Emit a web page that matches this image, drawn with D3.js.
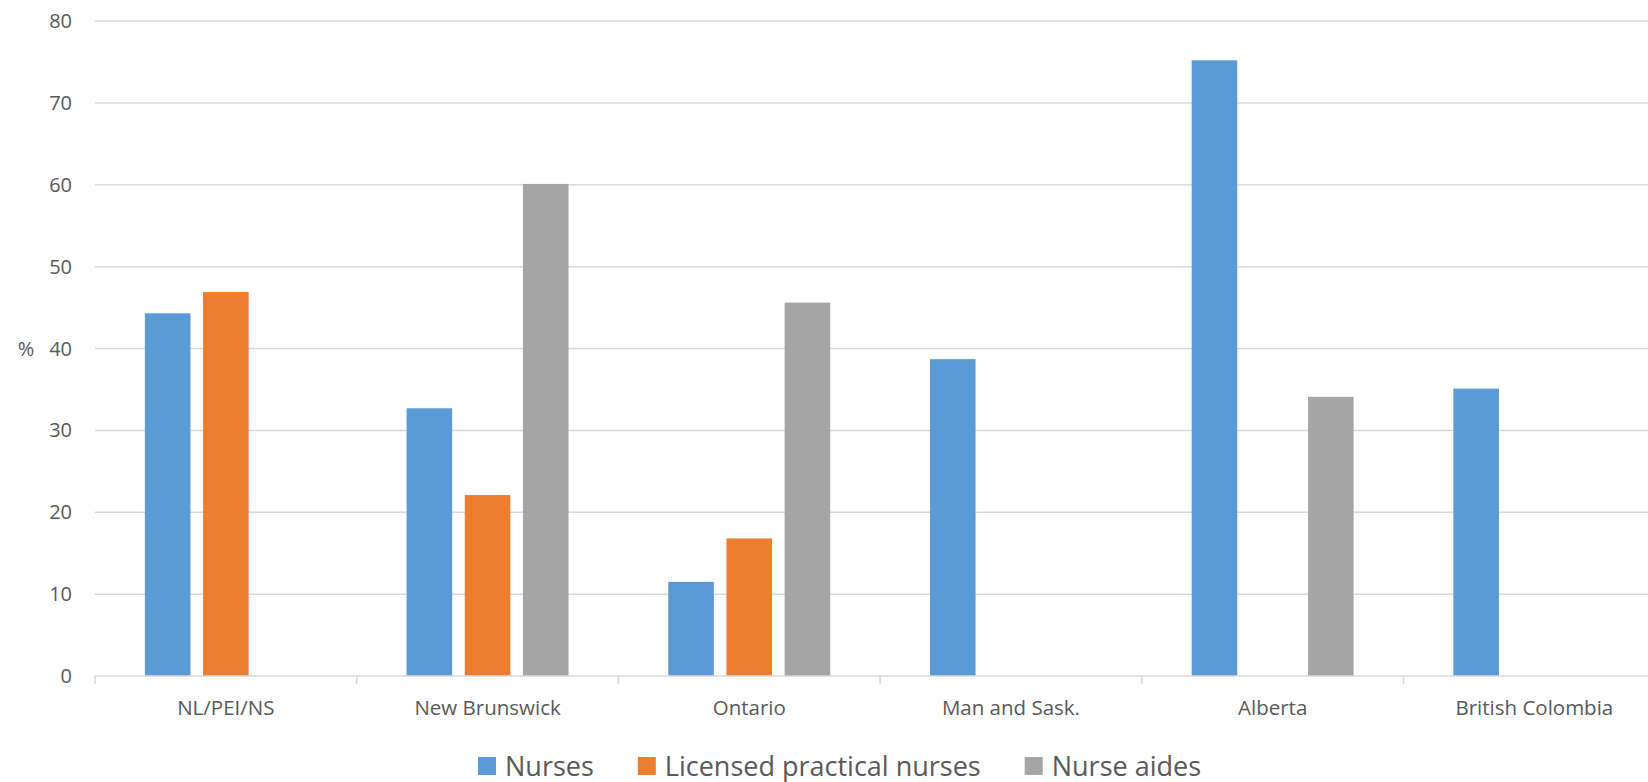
<!DOCTYPE html>
<html>
<head>
<meta charset="utf-8">
<script src="https://cdn.jsdelivr.net/npm/d3@7"></script>
<style>
  body { margin: 0; background: #fff; }
  svg text { font-family: "Open Sans", sans-serif; fill: #595959; }
</style>
</head>
<body>
<div id="chart"></div>
<script>
const width = 1648, height = 782;

// data
const categories = ["NL/PEI/NS", "New Brunswick", "Ontario", "Man and Sask.", "Alberta", "British Colombia"];
const seriesNames = ["Nurses", "Licensed practical nurses", "Nurse aides"];
const nurses = [44.3, 32.7, 11.5, 38.7, 75.2, 35.1];
const lpn = [46.9, 22.1, 16.8, null, null, null];
const aides = [null, 60.1, 45.6, null, 34.1, null];
const yTicks = [0, 10, 20, 30, 40, 50, 60, 70, 80];
const colors = ["#5B9BD5", "#ED7D31", "#A5A5A5"];

const seriesValues = [nurses, lpn, aides];

const margin = { left: 95, top: 21, bottom: 106 };
const plotRight = 95 + 6 * 261.7; // plot runs past the right edge of the picture

const svg = d3.select("#chart")
    .append("svg")
    .attr("width", width)
    .attr("height", height);

const x = d3.scaleBand()
    .domain(categories)
    .range([margin.left, plotRight]);

const xSub = d3.scaleBand()
    .domain(seriesNames)
    .range([0, x.bandwidth()])
    .paddingInner(0.2165)
    .paddingOuter(0.857);

const y = d3.scaleLinear()
    .domain([0, 80])
    .range([height - margin.bottom, margin.top]);

// gridlines
svg.append("g")
    .selectAll("line")
    .data(yTicks.filter(d => d > 0))
    .join("line")
    .attr("x1", margin.left)
    .attr("x2", width)
    .attr("y1", d => y(d))
    .attr("y2", d => y(d))
    .attr("stroke", "#D9D9D9")
    .attr("stroke-width", 1.5);

// y tick labels
svg.append("g")
    .selectAll("text")
    .data(yTicks)
    .join("text")
    .attr("x", 72)
    .attr("y", d => y(d))
    .attr("dy", "0.35em")
    .attr("text-anchor", "end")
    .style("font-size", "20px")
    .text(d => d);

svg.append("text")
    .attr("x", 26)
    .attr("y", y(40))
    .attr("dy", "0.35em")
    .attr("text-anchor", "middle")
    .style("font-size", "20px")
    .text("%");

// bars
const rows = categories.map((c, i) => ({ cat: c, vals: seriesNames.map((s, j) => ({ s, j, v: seriesValues[j][i] })) }));

svg.append("g")
    .selectAll("g")
    .data(rows)
    .join("g")
    .attr("transform", d => `translate(${x(d.cat)},0)`)
    .selectAll("rect")
    .data(d => d.vals.filter(v => v.v != null))
    .join("rect")
    .attr("x", d => xSub(d.s))
    .attr("width", xSub.bandwidth())
    .attr("y", d => y(d.v))
    .attr("height", d => y(0) - y(d.v))
    .attr("fill", d => colors[d.j]);

// x axis
const xAxis = d3.axisBottom(x)
    .tickSize(0)
    .tickPadding(0);

const gx = svg.append("g")
    .attr("transform", `translate(0,${y(0)})`);

gx.append("line")
    .attr("x1", margin.left)
    .attr("x2", width)
    .attr("stroke", "#D9D9D9")
    .attr("stroke-width", 1.5);

gx.selectAll(".sep")
    .data(d3.range(categories.length + 1))
    .join("line")
    .attr("class", "sep")
    .attr("x1", i => margin.left + i * x.step())
    .attr("x2", i => margin.left + i * x.step())
    .attr("y1", 0)
    .attr("y2", 8)
    .attr("stroke", "#D9D9D9")
    .attr("stroke-width", 1.5);

gx.selectAll(".lbl")
    .data(categories)
    .join("text")
    .attr("class", "lbl")
    .attr("x", d => x(d) + x.bandwidth() / 2)
    .attr("y", 38.5)
    .attr("text-anchor", "middle")
    .style("font-size", "20.5px")
    .text(d => d);

// legend
const legend = svg.append("g");
let lx = 478;
seriesNames.forEach((name, i) => {
    legend.append("rect")
        .attr("x", lx)
        .attr("y", 757)
        .attr("width", 18)
        .attr("height", 18)
        .attr("fill", colors[i]);
    const t = legend.append("text")
        .attr("x", lx + 27)
        .attr("y", 775.5)
        .style("font-size", "27px")
        .text(name);
    lx += 27 + t.node().getComputedTextLength() + 44;
});
</script>
</body>
</html>
